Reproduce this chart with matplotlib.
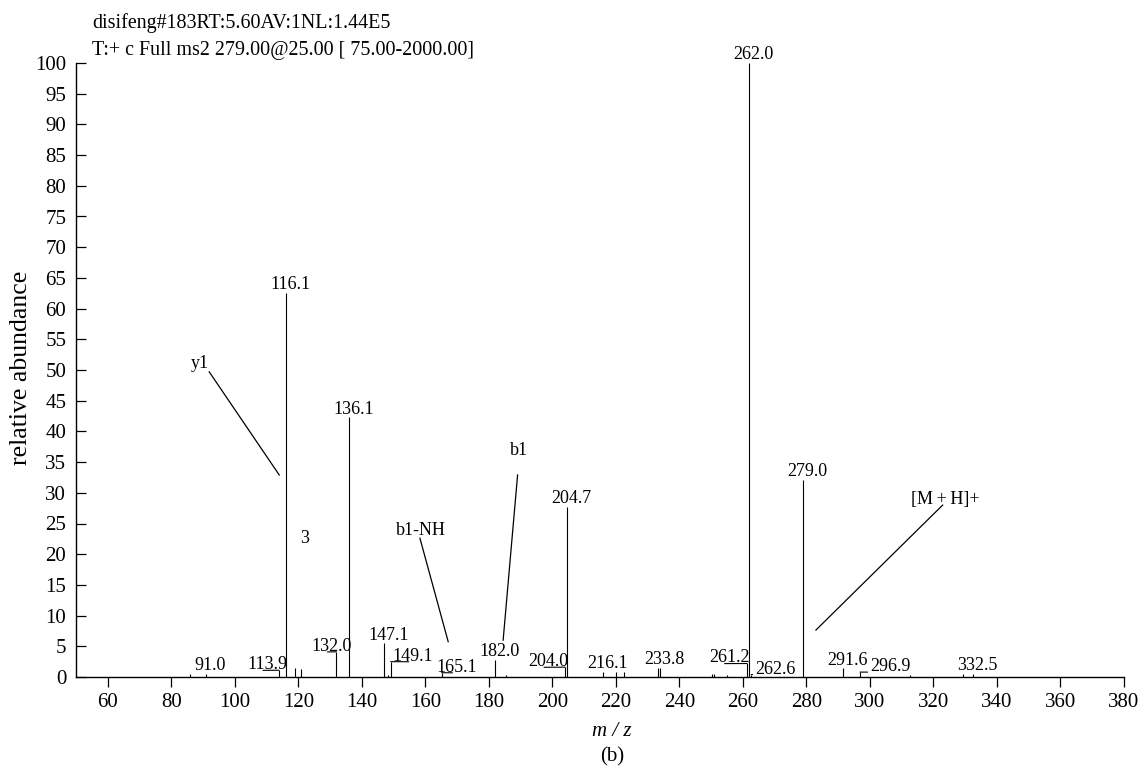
"""
MS2 谱图：前体离子 m/z 279.0 的碎片离子峰
"""

import matplotlib.pyplot as plt

plt.rcParams["font.family"] = ["Liberation Serif", "DejaVu Serif"]

# ---------------------------------------------------------------------------
# 峰表 (m/z, 相对丰度 %)
# ---------------------------------------------------------------------------
mz = [85.9, 91.0, 113.9, 116.1, 118.9, 120.8, 132.0, 136.1, 147.1, 148.1,
      149.1, 165.1, 182.0, 185.4, 204.0, 204.7, 216.1, 220.0, 222.7, 233.2,
      233.8, 250.4, 250.8, 254.9, 261.2, 262.0, 262.6, 279.0, 291.6, 296.9,
      312.5, 329.2, 332.5]
rel_abundance = [0.5, 0.5, 1.1, 62.6, 1.5, 1.3, 4.1, 42.3, 5.5, 0.3,
                 2.5, 0.7, 2.8, 0.4, 1.6, 27.7, 0.8, 0.8, 0.8, 1.5,
                 1.5, 0.55, 0.55, 0.4, 2.2, 100.0, 0.4, 32.1, 1.4, 0.8,
                 0.4, 0.55, 0.5]

# 标注数值的峰
labelled_mz = [91.0, 113.9, 116.1, 132.0, 136.1, 147.1, 149.1, 165.1, 182.0,
               204.0, 204.7, 216.1, 233.8, 261.2, 262.0, 262.6, 279.0, 291.6,
               296.9, 332.5]

# 碎片离子归属
fragment_names = ["y1", "3", "b1-NH", "b1", "[M\u2009+\u2009H]+"]

header_lines = ["disifeng#183RT:5.60AV:1NL:1.44E5",
                "T:+ c Full ms2 279.00@25.00 [ 75.00-2000.00]"]

x_ticks = list(range(60, 381, 20))
y_ticks = list(range(0, 101, 5))

# 标签避让：水平偏移 (像素)，带引线
label_shift_px = {113.9: -16, 132.0: -9, 149.1: 18, 165.1: 11,
                  204.0: -21, 261.2: -22, 262.6: 20, 296.9: 26}

# 碎片归属的文字位置与引线 (数据坐标)
fragment_layout = {
    "y1": ((89.0, 50.3), ((91.95, 49.7), (114.0, 32.9))),
    "3": ((122.1, 21.8), None),
    "b1-NH": ((158.6, 23.1), ((158.3, 22.6), (167.2, 5.75))),
    "b1": ((189.5, 36.2), ((189.05, 32.9), (184.5, 6.0))),
    "[M\u2009+\u2009H]+": ((323.6, 28.2), ((322.9, 28.0), (283.0, 7.65))),
}

W, H = 1142, 770
FS = 13        # 峰标签
FS_TICK = 15   # 刻度


def px2pt(px):
    return px * 72 / 100


def draw_peaks(ax):
    ax.vlines(mz, 0, rel_abundance, colors="k", lw=0.8)
    heights = dict(zip(mz, rel_abundance))
    for m in labelled_mz:
        h = heights[m]
        label = f"{m:.1f}"
        # 文字锚点约在文本宽度 39% 处
        w_px = len(label) * 8.0
        shift = label_shift_px.get(m)
        if shift is None:
            ax.annotate(label, (m, h), xytext=(px2pt(0.11 * w_px), px2pt(3.7)),
                        textcoords="offset points", ha="center", va="baseline",
                        fontsize=FS, annotation_clip=False)
        else:
            ax.annotate(label, (m, h),
                        xytext=(px2pt(shift + 0.11 * w_px), px2pt(1.0)),
                        textcoords="offset points", ha="center", va="baseline",
                        fontsize=FS, annotation_clip=False,
                        arrowprops=dict(arrowstyle="-", lw=0.8, color="k",
                                        shrinkA=0, shrinkB=0,
                                        relpos=(0.39, 0.17)))


def draw_fragments(ax):
    for name in fragment_names:
        (tx, ty), line = fragment_layout[name]
        ax.text(tx, ty, name, ha="center", va="baseline", fontsize=FS)
        if line is not None:
            (x0, y0), (x1, y1) = line
            ax.plot([x0, x1], [y0, y1], color="k", lw=0.9)


def main():
    fig = plt.figure(figsize=(W / 100, H / 100), dpi=100)
    ax = fig.add_axes([76 / W, 1 - 677 / H, (1124 - 76) / W, (677 - 63) / H])

    draw_peaks(ax)
    draw_fragments(ax)

    ax.set_xlim(50, 380)
    ax.set_ylim(0, 100)
    ax.set_xticks(x_ticks)
    ax.set_yticks(y_ticks)
    ax.tick_params(axis="x", direction="out", length=7.2, width=0.9,
                   labelsize=FS_TICK, pad=4)
    ax.tick_params(axis="y", direction="in", length=7.2, width=0.9,
                   labelsize=FS_TICK, pad=7)
    for side in ("top", "right"):
        ax.spines[side].set_visible(False)
    for side in ("left", "bottom"):
        ax.spines[side].set_linewidth(1.0)

    fig.text(92 / W, 1 - 28 / H, header_lines[0], fontsize=14.4, va="baseline")
    fig.text(92 / W, 1 - 55 / H, header_lines[1], fontsize=14.4, va="baseline")
    fig.text(21 / W, 1 - 368 / H, "relative abundance", fontsize=18.5,
             rotation=90, ha="center", va="center")
    fig.text(612 / W, 1 - 731 / H, "m / z", fontsize=FS_TICK, style="italic",
             ha="center", va="center")
    fig.text(612 / W, 1 - 757 / H, "(b)", fontsize=FS_TICK, ha="center",
             va="center")

    fig.savefig("out.png", dpi=100)
    plt.close(fig)


if __name__ == "__main__":
    main()
